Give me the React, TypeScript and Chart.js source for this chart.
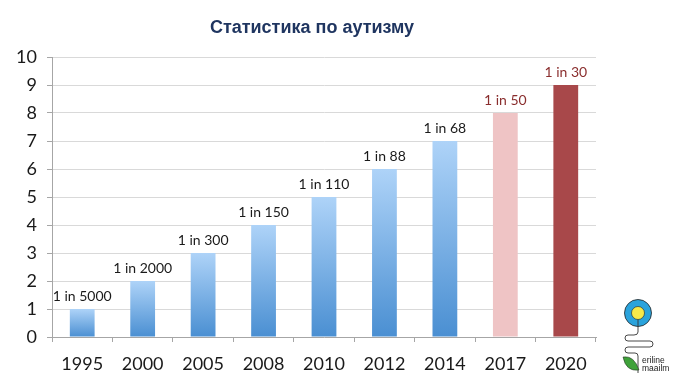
import React, { useEffect, useRef } from "react";
import { Chart, registerables } from "chart.js";

Chart.register(...registerables);

const title = "Статистика по аутизму";
const years = ["1995", "2000", "2005", "2008", "2010", "2012", "2014", "2017", "2020"];
const values = [1, 2, 3, 4, 5, 6, 7, 8, 9];
const rateLabels = ["1 in 5000", "1 in 2000", "1 in 300", "1 in 150", "1 in 110", "1 in 88", "1 in 68", "1 in 50", "1 in 30"];
const yTicks = [0, 1, 2, 3, 4, 5, 6, 7, 8, 9, 10];

const FONT = "Lato, 'Open Sans', sans-serif";

const barKind = (i: number) => (i === 8 ? "dark" : i === 7 ? "pink" : "blue");

export default function App() {
  const ref = useRef<HTMLCanvasElement | null>(null);

  useEffect(() => {
    document.body.style.margin = "0";
    const canvas = ref.current!;

    const labelPlugin = {
      id: "rateLabels",
      afterDatasetsDraw(chart: any) {
        const c = chart.ctx;
        const meta = chart.getDatasetMeta(0);
        c.save();
        c.font = `14px ${FONT}`;
        c.textAlign = "center";
        c.textBaseline = "bottom";
        meta.data.forEach((el: any, i: number) => {
          c.fillStyle = barKind(i) === "blue" ? "#1a1a1a" : "#8a2e2e";
          c.fillText(rateLabels[i], el.x, el.y - 6);
        });
        c.restore();
      },
    };

    const titlePlugin = {
      id: "customTitle",
      afterDraw(chart: any) {
        const c = chart.ctx;
        c.save();
        c.font = `bold 18px 'Liberation Sans', Arial, sans-serif`;
        c.fillStyle = "#1f3560";
        c.textAlign = "center";
        c.textBaseline = "middle";
        c.fillText(title, 312, 28);
        c.restore();
      },
    };

    const chart = new Chart(canvas, {
      type: "bar",
      data: {
        labels: years,
        datasets: [
          {
            data: values,
            barPercentage: 0.41,
            categoryPercentage: 1,
            borderWidth: 0,
            backgroundColor: (ctx: any) => {
              const i = ctx.dataIndex;
              const k = barKind(i);
              if (k === "dark") return "#a8484a";
              if (k === "pink") return "#efc4c5";
              const chart = ctx.chart;
              const ys = chart.scales && chart.scales.y;
              if (!ys || !chart.chartArea) return "#7fb3e6";
              const top = ys.getPixelForValue(values[i]);
              const base = ys.getPixelForValue(0);
              const g = chart.ctx.createLinearGradient(0, top, 0, base);
              g.addColorStop(0, "#aed3f8");
              g.addColorStop(1, "#4a8fd2");
              return g;
            },
          },
        ],
      },
      options: {
        responsive: false,
        animation: false,
        layout: { padding: { left: 0, right: 94, top: 57, bottom: 0 } },
        plugins: {
          legend: { display: false },
          tooltip: { enabled: false },
          title: { display: false },
        },
        scales: {
          x: {
            grid: {
              display: true,
              drawOnChartArea: false,
              drawTicks: true,
              tickLength: 5,
              color: "#a6a6a6",
              offset: true,
            },
            border: { display: true, color: "#a6a6a6", width: 1 },
            ticks: {
              color: "#1a1a1a",
              font: { family: FONT, size: 18 },
              padding: 11,
              maxRotation: 0,
            },
            afterFit(scale: any) {
              scale.height = 52;
            },
          },
          y: {
            min: 0,
            max: 10,
            afterBuildTicks(scale: any) {
              scale.ticks = yTicks.map((v) => ({ value: v }));
            },
            grid: {
              color: "#d9d9d9",
              drawTicks: true,
              tickLength: 5,
              tickColor: "#a6a6a6",
            },
            border: { display: true, color: "#a6a6a6", width: 1 },
            ticks: {
              color: "#1a1a1a",
              font: { family: FONT, size: 18 },
              padding: 10,
            },
            afterFit(scale: any) {
              scale.width = 52;
            },
          },
        },
      },
      plugins: [labelPlugin, titlePlugin],
    });

    return () => chart.destroy();
  }, []);

  return (
    <div style={{ position: "relative", width: 690, height: 389, background: "#fff", overflow: "hidden" }}>
      <canvas ref={ref} width={690} height={389} style={{ display: "block" }} />
      <svg
        width={56}
        height={92}
        viewBox="0 0 56 92"
        style={{ position: "absolute", left: 618, top: 293 }}
      >
        <circle cx={20} cy={20} r={13.5} fill="#2aa3dc" stroke="#222" strokeWidth={0.8} />
        <circle cx={20} cy={20} r={6.5} fill="#f6e94a" stroke="#222" strokeWidth={0.6} />
        <path
          d="M20 26.5 L20 39 Q20 42 16 42 L10 42 Q7 42 7 45 Q7 48 10 48 L32 48 Q35 48 35 51 Q35 54 32 54 L10 54 Q7 54 7 57 Q7 60 10 60 L17 60 Q20 60 20 63 L20 80"
          fill="none"
          stroke="#333"
          strokeWidth={0.9}
        />
        <path d="M5 64 Q16 62 21 77 Q8 79 5 64 Z" fill="#3fa23a" stroke="#222" strokeWidth={0.5} />
        <text x={24} y={70} fontSize={8.5} fontFamily="'Liberation Sans', Arial, sans-serif" fill="#222">
          eriline
        </text>
        <text x={24} y={78} fontSize={8.5} fontFamily="'Liberation Sans', Arial, sans-serif" fill="#222">
          maailm
        </text>
      </svg>
    </div>
  );
}
